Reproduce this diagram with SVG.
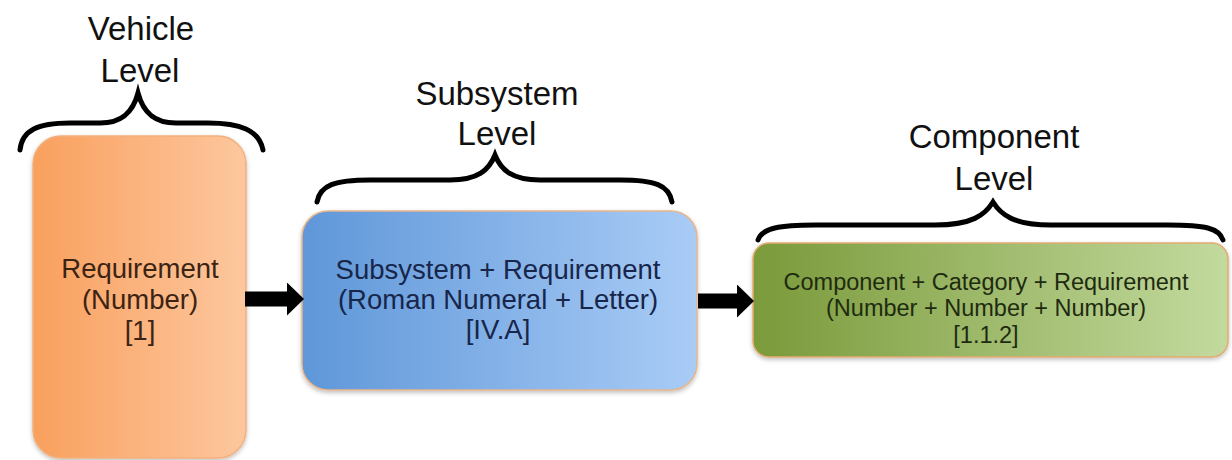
<svg xmlns="http://www.w3.org/2000/svg" width="1232" height="460" viewBox="0 0 1232 460">
<style>
.title{font-family:"Liberation Sans",Arial,sans-serif;font-size:33px;fill:#111;text-anchor:middle}
.lbl{font-family:"Liberation Sans",Arial,sans-serif;text-anchor:middle}
.brace{fill:none;stroke:#000;stroke-width:5;stroke-linecap:round;stroke-linejoin:miter}
.conn{stroke:#000;stroke-width:15;fill:none}
</style>
<defs>
<linearGradient id="gOr" x1="0" y1="0" x2="1" y2="0">
<stop offset="0" stop-color="#f9a05e"/><stop offset="1" stop-color="#fdc79e"/>
</linearGradient>
<linearGradient id="gBl" x1="0" y1="0" x2="1" y2="0">
<stop offset="0" stop-color="#5f97d9"/><stop offset="1" stop-color="#a9ccf6"/>
</linearGradient>
<linearGradient id="gGr" x1="0" y1="0" x2="1" y2="0">
<stop offset="0" stop-color="#7a9a3a"/><stop offset="1" stop-color="#c3da9e"/>
</linearGradient>
<filter id="sh" x="-10%" y="-10%" width="120%" height="120%">
<feDropShadow dx="0" dy="2" stdDeviation="2" flood-color="#000" flood-opacity="0.25"/>
</filter>
<marker id="ah" markerUnits="userSpaceOnUse" markerWidth="17" markerHeight="33" refX="0" refY="16.5" orient="auto">
<path d="M0,0 L17,16.5 L0,33 Z" fill="#000"/>
</marker>
</defs>

<g id="vehicle">
<text class="title" x="141" y="40">Vehicle</text>
<text class="title" x="140" y="82">Level</text>
<path class="brace" d="M20,150 C22,130 38,123 70,123 L100,123 C122,123 133,112 138,93 C143,112 154,123 176,123 L208,123 C240,123 259,130 263,150"/>
<rect x="33" y="136" width="213" height="322" rx="28" ry="28" fill="url(#gOr)" stroke="#f2b07c" stroke-width="1.5" filter="url(#sh)"/>
<g class="lbl" font-size="27.5" fill="#3b2414">
<text x="140" y="278">Requirement</text>
<text x="140" y="309">(Number)</text>
<text x="140" y="340">[1]</text>
</g>
</g>

<g id="subsystem">
<text class="title" x="497" y="105">Subsystem</text>
<text class="title" x="497" y="145">Level</text>
<path class="brace" d="M317,202 C320,185 335,180 370,180 L450,180 C478,180 489,170 495,155 C501,170 512,180 540,180 L620,180 C655,180 669,185 672,202"/>
<rect x="302" y="211" width="395" height="179" rx="26" ry="26" fill="url(#gBl)" stroke="#e9b58a" stroke-width="1.5" filter="url(#sh)"/>
<g class="lbl" font-size="27.5" fill="#17264a">
<text x="498" y="279">Subsystem + Requirement</text>
<text x="498" y="309">(Roman Numeral + Letter)</text>
<text x="498" y="339">[IV.A]</text>
</g>
</g>

<g id="component">
<text class="title" x="994" y="148">Component</text>
<text class="title" x="994" y="190">Level</text>
<path class="brace" d="M758,240 C762,228 780,225 815,225 L935,225 C972,225 985,215 993,202 C1001,215 1014,225 1051,225 L1168,225 C1205,225 1219,228 1223,240"/>
<rect x="753" y="243" width="475" height="114" rx="16" ry="16" fill="url(#gGr)" stroke="#e3aa72" stroke-width="1.5" filter="url(#sh)"/>
<g class="lbl" font-size="23.5" fill="#1f2b10">
<text x="986" y="290">Component + Category + Requirement</text>
<text x="986" y="316">(Number + Number + Number)</text>
<text x="986" y="343">[1.1.2]</text>
</g>
</g>

<g id="connectors">
<line class="conn" x1="245" y1="299" x2="287" y2="299" marker-end="url(#ah)"/>
<line class="conn" x1="698" y1="301" x2="737" y2="301" marker-end="url(#ah)"/>
</g>
</svg>
